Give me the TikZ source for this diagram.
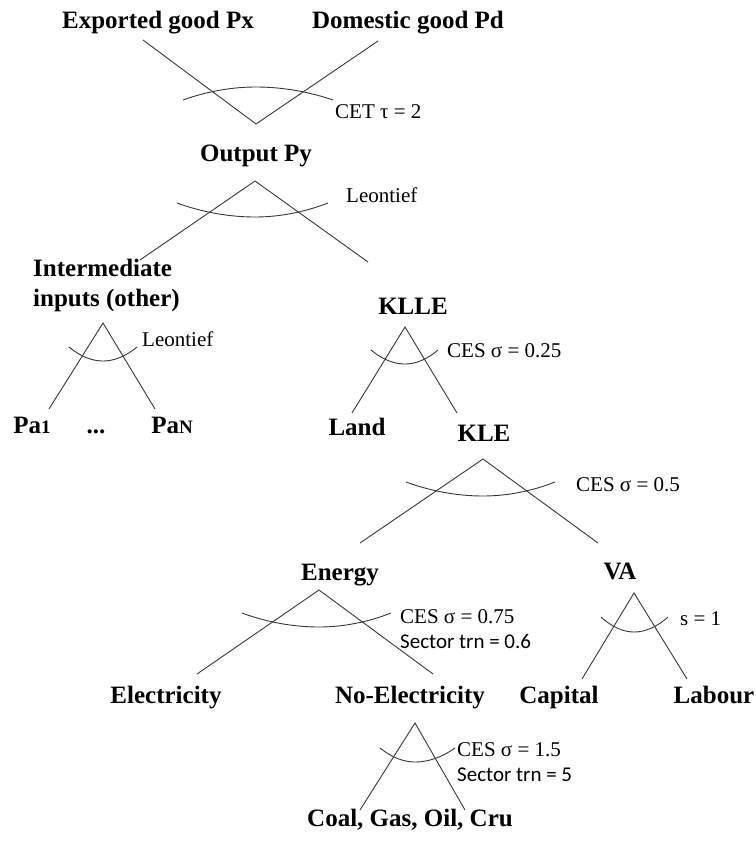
\documentclass[tikz,border=0pt]{standalone}
\usepackage{fontspec}
\setmainfont{Liberation Serif}
\newfontfamily\calib{Carlito}
\begin{document}
\begin{tikzpicture}[x=1pt,y=-1pt,
    good/.style={font=\fontsize{25}{30}\selectfont\bfseries,inner sep=0pt,anchor=base},
    elas/.style={font=\fontsize{21}{25}\selectfont,inner sep=0pt,anchor=base west},
    trn/.style={font=\fontsize{21}{25}\selectfont\calib,inner sep=0pt,anchor=base west},
    branch/.style={draw=black!78,line width=0.9pt}]
    \useasboundingbox (0,0) rectangle (755,843);
    %% CET: output into exports and domestic
    \node[good] (Px) at (158,29) {Exported good Px};
    \node[good] (Pd) at (408,29) {Domestic good Pd};
    \node[good] (Py) at (256,161) {Output Py};
    \coordinate (cetL) at (143,40);
    \coordinate (cetR) at (378,41);
    \coordinate (cetV) at (256,124);
    \draw[branch] (cetL) -- (cetV) -- (cetR);
    \draw[branch] (183,100) parabola bend (256,87) (333,100);
    \node[elas] (cet) at (335,118) {CET τ = 2};
    %% Leontief: output into intermediates and KLLE
    \node[good,anchor=base west] (Int) at (33,276) {Intermediate};
    \node[good,anchor=base west] (Int2) at (33,306) {inputs (other)};
    \node[good] (KLLE) at (413,314) {KLLE};
    \coordinate (pyA) at (255,181);
    \coordinate (pyL) at (140,260);
    \coordinate (pyR) at (368,262);
    \draw[branch] (pyL) -- (pyA) -- (pyR);
    \draw[branch] (177,203) parabola bend (255,217) (328,203);
    \node[elas] (leo) at (346,202) {Leontief};
    %% intermediate inputs
    \node[good] (Pa1) at (32,433) {Pa{\fontsize{19}{22}\selectfont 1}};
    \node[good] (dots) at (96,433) {...};
    \node[good] (PaN) at (172,433) {Pa{\fontsize{19}{22}\selectfont N}};
    \coordinate (intA) at (103,323);
    \coordinate (intL) at (49,409);
    \coordinate (intR) at (155,409);
    \draw[branch] (intL) -- (intA) -- (intR);
    \draw[branch] (69,347) parabola bend (103,361) (137,347);
    \node[elas] (leo2) at (142,346) {Leontief};
    %% KLLE nest
    \node[good] (Land) at (357,435) {Land};
    \node[good] (KLE) at (484,441) {KLE};
    \coordinate (klleA) at (405,327);
    \coordinate (klleL) at (352,413);
    \coordinate (klleR) at (457,413);
    \draw[branch] (klleL) -- (klleA) -- (klleR);
    \draw[branch] (371,350) parabola bend (405,364) (438,350);
    \node[elas] (ces25) at (447,357) {CES σ = 0.25};
    %% KLE nest
    \node[good] (En) at (340,580) {Energy};
    \node[good] (VA) at (620,579) {VA};
    \coordinate (kleA) at (483,459);
    \coordinate (kleL) at (360,543);
    \coordinate (kleR) at (598,543);
    \draw[branch] (kleL) -- (kleA) -- (kleR);
    \draw[branch] (406,482) parabola bend (483,496) (555,482);
    \node[elas] (ces5) at (576,491) {CES σ = 0.5};
    %% energy nest
    \node[good] (El) at (166,703) {Electricity};
    \node[good] (NoEl) at (410,703) {No-Electricity};
    \coordinate (enA) at (319,590);
    \coordinate (enL) at (197,674);
    \coordinate (enR) at (433,674);
    \draw[branch] (enL) -- (enA) -- (enR);
    \draw[branch] (242,613) parabola bend (319,627) (391,613);
    \node[elas] (ces75) at (400,623) {CES σ = 0.75};
    \node[trn] (trn6) at (400,648) {Sector trn = 0.6};
    %% value added nest
    \node[good] (Cap) at (559,703) {Capital};
    \node[good] (Lab) at (714,703) {Labour};
    \coordinate (vaA) at (634,593);
    \coordinate (vaL) at (582,679);
    \coordinate (vaR) at (687,679);
    \draw[branch] (vaL) -- (vaA) -- (vaR);
    \draw[branch] (601,617) parabola bend (634,632) (668,617);
    \node[elas] (s1) at (680,625) {s = 1};
    %% non-electric energy nest
    \node[good] (Fos) at (410,826) {Coal, Gas, Oil, Cru};
    \coordinate (neA) at (415,723);
    \coordinate (neL) at (360,810);
    \coordinate (neR) at (465,810);
    \draw[branch] (neL) -- (neA) -- (neR);
    \draw[branch] (380,748) parabola bend (415,762) (455,748);
    \node[elas] (ces15) at (457,756) {CES σ = 1.5};
    \node[trn] (trn5) at (457,781) {Sector trn = 5};
\end{tikzpicture}
\end{document}
